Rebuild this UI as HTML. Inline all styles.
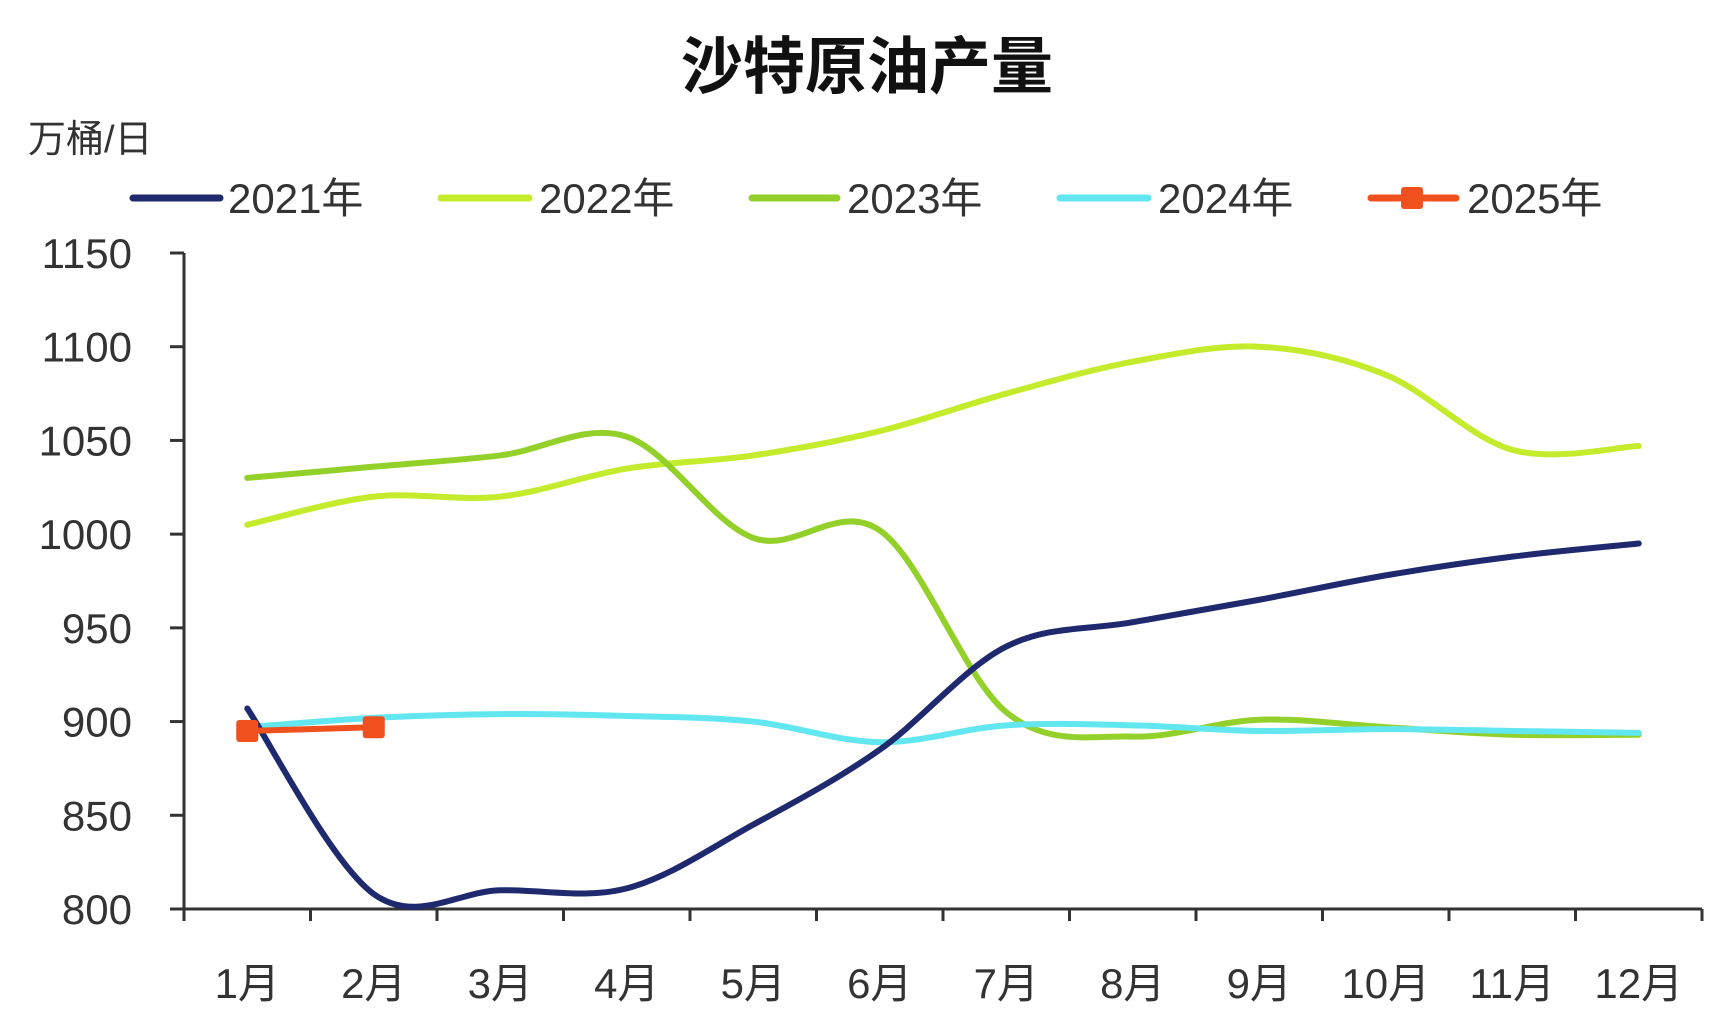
<!DOCTYPE html>
<html><head><meta charset="utf-8"><style>
html,body{margin:0;padding:0;background:#fff;width:1734px;height:1024px;overflow:hidden}
svg{display:block}
text{font-family:"Liberation Sans","Noto Sans CJK SC",sans-serif;fill:#333}
</style></head><body>
<svg id="s" width="1734" height="1024" viewBox="0 0 1734 1024">
<text x="867" y="88" text-anchor="middle" font-size="62" font-weight="bold" fill="#111" style="fill:#111">沙特原油产量</text>
<text x="28" y="152" font-size="38">万桶/日</text>
<g font-size="42">
<line x1="133" y1="198" x2="220" y2="198" stroke="#1f2a6e" stroke-width="7" stroke-linecap="round"/>
<text x="228" y="213">2021年</text>
<line x1="441" y1="198" x2="529" y2="198" stroke="#c4ec2c" stroke-width="7" stroke-linecap="round"/>
<text x="539" y="213">2022年</text>
<line x1="752" y1="198" x2="837" y2="198" stroke="#94d02a" stroke-width="7" stroke-linecap="round"/>
<text x="847" y="213">2023年</text>
<line x1="1060" y1="198" x2="1148" y2="198" stroke="#62e6f0" stroke-width="7" stroke-linecap="round"/>
<text x="1158" y="213">2024年</text>
<line x1="1371" y1="198" x2="1456" y2="198" stroke="#f0501e" stroke-width="7" stroke-linecap="round"/>
<rect x="1401" y="187" width="22" height="22" rx="3" fill="#f0501e"/>
<text x="1467" y="213">2025年</text>
</g>
<g id="axes" stroke="#333" stroke-width="3"></g>
<g id="labels" font-size="42"></g>
<g id="series"></g>
</svg>
<script>
var NS="http://www.w3.org/2000/svg";
function el(t,a,p,txt){var e=document.createElementNS(NS,t);for(var k in a)e.setAttribute(k,a[k]);if(txt)e.textContent=txt;document.getElementById(p).appendChild(e);return e;}
var X0=184,X1=1702,Y0=909,Y1=253,W=(X1-X0)/12;
function xm(i){return X0+W/2+W*i;}
function yv(v){return Y0-(v-800)*(Y0-Y1)/350;}
el("line",{x1:X0,y1:Y1,x2:X0,y2:Y0},"axes");
el("line",{x1:X0,y1:Y0,x2:X1,y2:Y0},"axes");
for(var v=800;v<=1150;v+=50){var y=yv(v);el("line",{x1:X0-14,y1:y,x2:X0,y2:y},"axes");
 el("text",{x:132,y:y+15,"text-anchor":"end"},"labels",String(v));}
for(var i=0;i<=12;i++){var x=X0+W*i;el("line",{x1:x,y1:Y0,x2:x,y2:Y0+12},"axes");}
for(var i=0;i<12;i++){el("text",{x:xm(i),y:998,"text-anchor":"middle","font-size":"42"},"labels",(i+1)+"月");}
function path(vals){var p=vals.map(function(v,i){return [xm(i),yv(v)];});
 var d="M"+p[0][0]+","+p[0][1];
 for(var i=0;i<p.length-1;i++){var a=p[i-1]||p[i],b=p[i],c=p[i+1],e=p[i+2]||c;
  var c1=[b[0]+(c[0]-a[0])/6,b[1]+(c[1]-a[1])/6],c2=[c[0]-(e[0]-b[0])/6,c[1]-(e[1]-b[1])/6];
  d+=" C"+c1[0]+","+c1[1]+" "+c2[0]+","+c2[1]+" "+c[0]+","+c[1];}
 return d;}
var S=[
 ["#c4ec2c",[1005,1020,1020,1035,1042,1055,1075,1092,1100,1085,1045,1047]],
 ["#94d02a",[1030,1036,1042,1052,998,1002,905,892,901,897,893,893]],
 ["#62e6f0",[897,902,904,903,900,889,898,898,895,896,895,894]],
 ["#1f2a6e",[907,808,810,811,845,885,940,953,965,978,988,995]]
];
S.forEach(function(s){el("path",{d:path(s[1]),fill:"none",stroke:s[0],"stroke-width":6,"stroke-linecap":"round"},"series");});
el("line",{x1:xm(0),y1:yv(895),x2:xm(1),y2:yv(897),stroke:"#f0501e","stroke-width":6},"series");
[[0,895],[1,897]].forEach(function(q){el("rect",{x:xm(q[0])-11,y:yv(q[1])-11,width:22,height:22,rx:3,fill:"#f0501e"},"series");});
</script>
</body></html>
